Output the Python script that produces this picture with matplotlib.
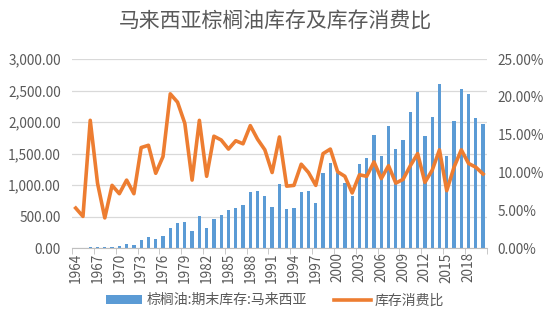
import numpy as np
import matplotlib
matplotlib.use("Agg")
import matplotlib.pyplot as plt
from matplotlib.ticker import FuncFormatter, FixedLocator

plt.rcParams['font.family'] = ['Noto Sans CJK SC', 'DejaVu Sans']

years = list(range(1964, 2021))
stock = [0, 0, 25, 15, 15, 25, 40, 60, 50, 130,
         170, 150, 195, 325, 405, 410, 265, 515, 315, 470,
         530, 605, 645, 680, 890, 910, 820, 660, 1015, 615,
         640, 890, 900, 710, 1195, 1355, 1200, 1030, 820, 1330,
         1435, 1790, 1460, 1945, 1570, 1710, 2155, 2470, 1780, 2080,
         2610, 1460, 2010, 2520, 2440, 2070, 1970]
ratio = [5.3, 4.2, 16.9, 8.6, 4.0, 8.3, 7.2, 9.0, 7.2, 13.3,
         13.6, 9.9, 12.1, 20.4, 19.3, 16.5, 9.0, 16.9, 9.5, 14.8,
         14.3, 13.1, 14.2, 13.8, 16.2, 14.4, 13.0, 10.0, 14.7, 8.2,
         8.3, 11.1, 10.0, 8.3, 12.5, 13.1, 10.1, 9.5, 7.3, 9.7,
         9.5, 11.4, 9.2, 10.9, 8.6, 9.1, 10.9, 12.5, 8.7, 10.3,
         13.0, 7.6, 10.7, 13.0, 11.2, 10.7, 9.8]

blue = '#5B9BD5'
orange = '#ED7D31'
grey = '#595959'

fig = plt.figure(figsize=(5.5, 3.3), dpi=100)
ax = fig.add_axes([0.131, 0.248, 0.754, 0.573])
x = np.arange(len(years))

ax.bar(x, stock, width=0.45, color=blue, zorder=2, label='棕榈油:期末库存:马来西亚')
ax.set_ylim(0, 3000)
ax.set_yticks(np.arange(0, 3001, 500))
ax.yaxis.set_major_formatter(FuncFormatter(lambda v, p: '{:,.2f}'.format(v)))
ax.grid(axis='y', color='#D9D9D9', lw=0.9, zorder=0)
ax.set_xlim(-0.5, len(years) - 0.5)
ax.set_xticks(x[::3])
ax.set_xticklabels([str(y) for y in years[::3]], rotation=90)
ax.xaxis.set_minor_locator(FixedLocator(np.arange(-0.5, len(years), 3)))
ax.tick_params(axis='x', which='major', length=0, pad=3)
ax.tick_params(axis='x', which='minor', length=4, color='#BFBFBF')
ax.tick_params(axis='y', length=0, pad=8)
ax.tick_params(colors=grey, labelsize=9.8)
for s in ['top', 'right', 'left']:
    ax.spines[s].set_visible(False)
ax.spines['bottom'].set_color('#BFBFBF')

ax2 = ax.twinx()
ax2.plot(x, np.array(ratio) / 100, color=orange, lw=2.6, zorder=3, label='库存消费比')
ax2.set_ylim(0, 0.25)
ax2.set_yticks(np.arange(0, 0.251, 0.05))
ax2.yaxis.set_major_formatter(FuncFormatter(lambda v, p: '{:.2f}%'.format(v * 100)))
ax2.tick_params(axis='y', length=0, pad=8, colors=grey, labelsize=9.8)
for s in ['top', 'right', 'left', 'bottom']:
    ax2.spines[s].set_visible(False)

fig.text(0.5, 0.935, '马来西亚棕榈油库存及库存消费比', ha='center', va='center',
         fontsize=15, color=grey)

h1, l1 = ax.get_legend_handles_labels()
h2, l2 = ax2.get_legend_handles_labels()
fig.legend(h1 + h2, l1 + l2, loc='center', bbox_to_anchor=(0.5, 0.09), ncol=2,
           frameon=False, fontsize=10, labelcolor=grey, handlelength=2.6,
           handleheight=0.6, columnspacing=2, handletextpad=0.3)

fig.savefig('out.png', dpi=100)
